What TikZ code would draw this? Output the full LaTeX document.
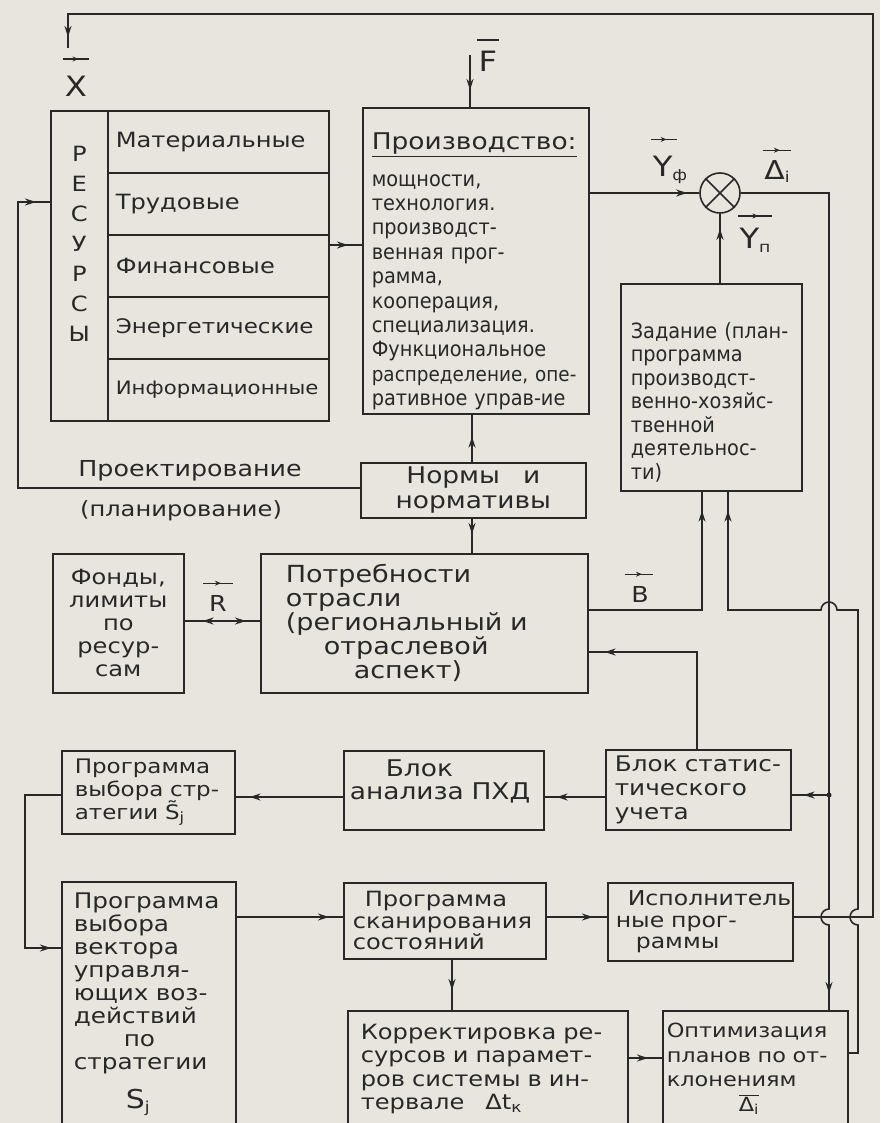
\documentclass[tikz,border=0pt]{standalone}
\usepackage{fontspec}
\setmainfont{DejaVu Sans}[FakeStretch=1.15]
\newfontfamily\uzk{DejaVu Sans}[FakeStretch=0.92]
\usetikzlibrary{arrows.meta,decorations.markings}
\newcommand{\razm}[2]{\fontsize{#1}{#2}\selectfont}
\definecolor{bumaga}{RGB}{231,229,221}
\definecolor{chern}{RGB}{40,40,40}
\tikzset{
  blok/.style={draw, anchor=north west, align=left, inner ysep=2pt},
  ryad/.style={draw, anchor=north west, minimum width=221pt, minimum height=62pt,
    text width=205pt, inner xsep=8pt, align=left},
  metka/.style={inner sep=1pt, font=\razm{28}{28}},
  nadpis/.style={inner sep=1pt},
  pil/.style={postaction={decorate}, decoration={markings,
    mark=at position -#1 with {\arrow{Stealth[length=11pt,width=7pt]}}}},
  dvepil/.style={postaction={decorate}, decoration={markings,
    mark=at position 18pt with {\arrowreversed{Stealth[length=11pt,width=7pt]}},
    mark=at position -14pt with {\arrow{Stealth[length=11pt,width=7pt]}}}},
  vbar/.style={line width=1.2pt, postaction={decorate}, decoration={markings,
    mark=at position 0.6 with {\arrow{Stealth[length=6pt,width=5pt]}}}},
}
\begin{document}
\begin{tikzpicture}[x=1pt,y=-1pt,line width=1.6pt,color=chern]

\fill[bumaga] (0,0) rectangle (880,1123);
\useasboundingbox (0,0) rectangle (880,1123);

% resources block
\node[blok, minimum width=57pt, minimum height=310pt, text width=41pt, inner xsep=8pt,
  align=center, font=\razm{21}{30}] (resy) at (50,110)
  {Р\\Е\\С\\У\\Р\\С\\Ы\par\vspace*{44pt}};
\foreach \imya/\tekst/\r [count=\i from 0] in {mat/Материальные/21,trud/Трудовые/21,fin/Финансовые/21,energ/Энергетические/20,inf/Информационные/18.5}
  \node[ryad, font=\razm{\r}{24}] (\imya) at (107,110+62*\i) {\tekst};

% production
\node[blok, minimum width=226pt, minimum height=306pt, text width=208pt, inner xsep=9pt,
  font=\uzk\razm{21}{24.4}] (prod) at (362,107)
  {{\rmfamily\razm{23}{24}\rule{0pt}{38pt}\underline{Производство:}}\\[12pt]
   мощности,\\технология.\\производст-\\\mbox{венная прог-}\\рамма,\\кооперация,\\специализация.\\Функциональное\\{\razm{20}{24.4}\mbox{распределение, опе-}}\\\mbox{ративное управ-ие}};

\node[blok, minimum width=181pt, minimum height=207pt, text width=161pt, inner xsep=10pt,
  font=\uzk\razm{21}{23.5}] (zad) at (620,283)
  {\rule{0pt}{46pt}\mbox{Задание (план-}\\программа\\производст-\\венно-хозяйс-\\твенной\\деятельнос-\\ти)};

\node[blok, minimum width=225pt, minimum height=55pt, align=center, font=\razm{23}{25}] (norm) at (360,462)
  {Нормы\quad и\\нормативы};

\node[blok, minimum width=131pt, minimum height=139pt, align=center, font=\razm{21}{23}] (fond) at (52,553)
  {Фонды,\\лимиты\\по\\ресур-\\сам};

\node[blok, minimum width=327pt, minimum height=139pt, text width=277pt, inner xsep=25pt,
  font=\razm{23.5}{24}] (potr) at (260,553)
  {Потребности\\отрасли\\\mbox{(региональный и}\\\hspace*{38pt}отраслевой\\\hspace*{68pt}аспект)};

\node[blok, minimum width=173pt, minimum height=83pt, text width=147pt, inner xsep=13pt,
  font=\razm{20}{23}] (strat) at (61,750)
  {Программа\\\mbox{выбора стр-}\\\mbox{атегии \~{S}\textsubscript{j}}};

\node[blok, minimum width=200pt, minimum height=79pt, text width=188pt, inner xsep=6pt,
  font=\razm{23}{23}] (anal) at (343,750)
  {\hspace*{36pt}Блок\\\mbox{анализа ПХД}\par\vspace*{18pt}};

\node[blok, minimum width=185pt, minimum height=80pt, text width=167pt, inner xsep=9pt,
  font=\razm{21.5}{24}] (stat) at (605,749)
  {\mbox{Блок статис-}\\тического\\учета};

\node[blok, minimum width=174pt, minimum height=245pt, text width=150pt, inner xsep=12pt,
  font=\razm{21.5}{23}] (vect) at (61,881)
  {Программа\\выбора\\вектора\\управля-\\\mbox{ющих воз-}\\действий\\\hspace*{50pt}по\\стратегии\\[14pt]\hspace*{52pt}{\razm{26}{26}S}\textsubscript{j}};

\node[blok, minimum width=202pt, minimum height=76pt, text width=184pt, inner xsep=9pt,
  font=\razm{21}{21.5}] (scan) at (343,882)
  {\hspace*{12pt}Программа\\сканирования\\состояний};

\node[blok, minimum width=185pt, minimum height=78pt, text width=169pt, inner xsep=8pt,
  font=\razm{20.5}{21.5}] (isp) at (607,882)
  {\hspace*{12pt}Исполнитель\\\mbox{ные прог-}\\\hspace*{20pt}раммы};

\node[blok, minimum width=280pt, minimum height=116pt, text width=254pt, inner xsep=13pt,
  font=\razm{21}{23.5}] (korr) at (347,1010)
  {\mbox{Корректировка ре-}\\\mbox{сурсов и парамет-}\\\mbox{ров системы в ин-}\\\mbox{тервале\quad Δt\textsubscript{к}}};

\node[blok, minimum width=185pt, minimum height=116pt, text width=177pt, inner xsep=4pt,
  font=\razm{19.5}{24.5}] (opt) at (662,1010)
  {Оптимизация\\\mbox{планов по от-}\\клонениям\\\hspace*{72pt}\ensuremath{\overline{\mbox{Δ\textsubscript{i}}}}};

% comparator
\node[draw, circle, minimum size=40pt, inner sep=0pt] (sum) at (720,193) {};
\draw (sum.45) -- (sum.225) (sum.135) -- (sum.315);

% vector labels
\node[metka] (xl) at (76,86) {X};
\draw[vbar] ([yshift=15pt]xl.north west) -- ([yshift=15pt]xl.north east);
\node[metka] (fl) at (488,61) {F};
\draw[line width=1.2pt] ([yshift=9pt]fl.north west) -- ([yshift=9pt]fl.north east);
\node[metka] (yf) at (670,170) {Y\raisebox{-4pt}{\razm{15}{15}ф}};
\draw[vbar] ([yshift=15pt]yf.north west) -- ([yshift=15pt,xshift=-12pt]yf.north east);
\node[metka, font=\razm{26}{26}] (dl) at (777,172) {Δ\raisebox{-3pt}{\razm{15}{15}i}};
\draw[vbar] ([yshift=9pt]dl.north west) -- ([yshift=9pt]dl.north east);
\node[metka] (yp) at (755,240) {Y\raisebox{-4pt}{\razm{15}{15}п}};
\draw[vbar] ([yshift=10pt]yp.north west) -- ([yshift=10pt]yp.north east);
\node[metka, font=\razm{22}{22}] (rl) at (218,603) {R};
\draw[vbar] ([yshift=10pt,xshift=-4pt]rl.north west) -- ([yshift=10pt,xshift=4pt]rl.north east);
\node[metka, font=\razm{22}{22}] (bl) at (640,594) {B};
\draw[vbar] ([yshift=10pt,xshift=-5pt]bl.north west) -- ([yshift=10pt,xshift=3pt]bl.north east);

\node[nadpis, font=\razm{22}{22}] (proekt) at (190,471) {Проектирование};
\node[nadpis, font=\razm{21}{21}] (plan) at (181,511) {(планирование)};

% bus points
\coordinate (ugol) at (873,14);
\coordinate (xkon) at (68,48);
\coordinate (razv) at (829,795);

% connectors
\draw[pil=14pt] (fin.east |- 0,245) -- (prod.west |- 0,245);
\coordinate (fverh) at (470,55);
\draw[pil=17pt] (fverh) -- (prod.north -| fverh);
\draw[pil=12pt] (prod.east |- sum) -- (sum.west);
\draw[pil=15pt] (zad.north -| sum) -- (sum.south);
\draw[pil=17pt] (sum.east) -- (razv |- sum) -- (razv |- 0,909)
  arc[start angle=90, end angle=270, radius=8pt] -- (razv |- opt.north);
\fill (razv) circle (2.5pt);
\draw[pil=12pt] (razv) -- (stat.east |- razv);
\draw[pil=19pt] (opt.east |- 0,1053) -- (858,1053) -- (858,925)
  arc[start angle=270, end angle=90, radius=8pt] -- (858,610) -- (837,610)
  arc[start angle=0, end angle=180, radius=8pt] -- (728,610) -- (zad.south -| 728,0);
\draw[pil=19pt] (potr.east |- 0,610) -- (702,610) -- (zad.south -| 702,0);
\draw[pil=16pt] (stat.north -| 697,0) -- (697,652) -- (potr.east |- 0,652);
\draw[pil=22pt] (norm.north -| 472,0) -- (prod.south -| 472,0);
\draw[pil=19pt] (norm.south -| 472,0) -- (potr.north -| 472,0);
\draw[pil=14pt] (norm.west |- 0,488) -- (18,488) -- (18,202) -- (resy.west |- 0,202);
\draw[dvepil] (fond.east |- 0,621) -- (potr.west |- 0,621);
\draw[pil=12pt] (stat.west |- 0,797) -- (anal.east |- 0,797);
\draw[pil=14pt] (anal.west |- 0,797) -- (strat.east |- 0,797);
\draw[pil=10pt] (strat.west |- 0,795) -- (25,795) -- (25,948) -- (vect.west |- 0,948);
\draw[pil=14pt] (vect.east |- 0,917) -- (scan.west |- 0,917);
\draw[pil=14pt] (scan.east |- 0,917) -- (isp.west |- 0,917);
\draw[pil=20pt] (scan.south -| 452,0) -- (korr.north -| 452,0);
\draw[pil=14pt] (korr.east |- 0,1058) -- (opt.west |- 0,1058);
\draw[pil=11pt] (isp.east |- 0,917) -- (ugol |- 0,917) -- (ugol) -- (xkon |- ugol) -- (xkon);

\end{tikzpicture}
\end{document}
